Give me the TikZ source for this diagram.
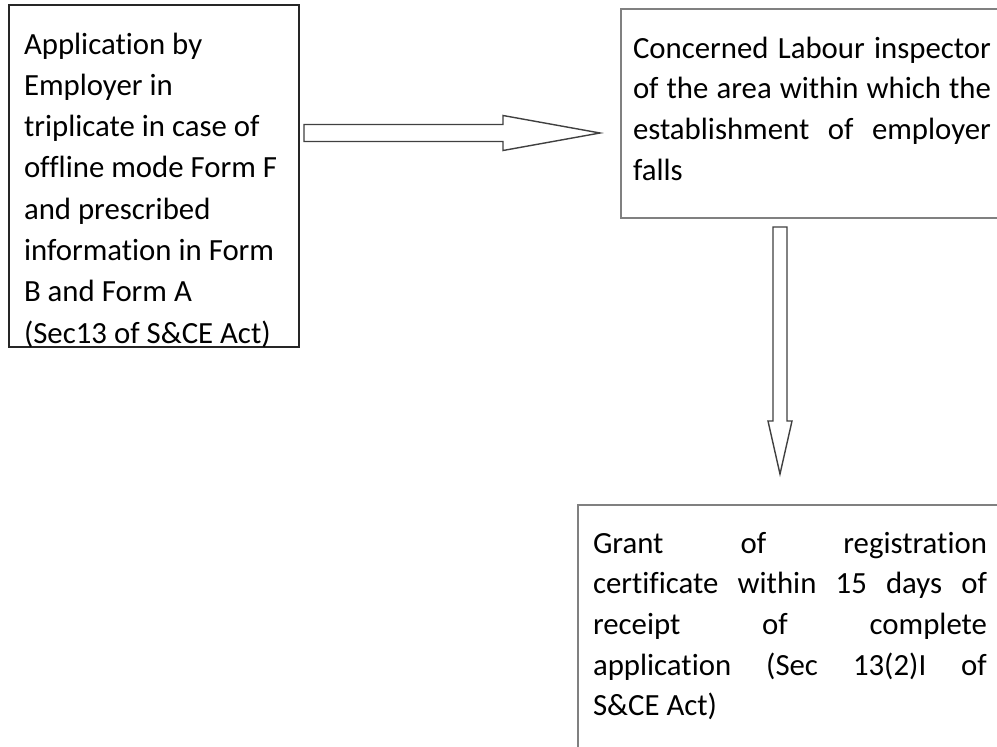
\documentclass[tikz,border=0pt]{standalone}
\usepackage{fontspec}
\setmainfont[Ligatures={NoCommon}]{Carlito}
\usetikzlibrary{calc}
\newcommand{\jline}[1]{\makebox[\linewidth][s]{#1}\\}
\newcommand{\bodyfont}{\fontsize{30.8}{40.7}\selectfont}
\newcommand{\firstfont}{\fontsize{30.8}{41.3}\selectfont}
\begin{document}
\begin{tikzpicture}[x=1pt,y=-1pt,
  boxa/.style={draw=black!85,line width=1.2pt,inner sep=0pt,outer sep=0pt,anchor=north west},
  boxb/.style={draw=black!50,line width=1.7pt,inner sep=0pt,outer sep=0pt,anchor=north west},
  txt/.style={inner sep=0pt,outer sep=0pt,anchor=base west,text=black},
  blk/.style={draw=black!75,line width=1.4pt,fill=white,line join=miter}]
\useasboundingbox (0,0) rectangle (997,747);
\clip (0,0) rectangle (997,747);
\fill[white] (0,0) rectangle (997,747);

% boxes
\node[boxa,minimum width=290pt,minimum height=342pt] (b1) at (9,5) {};
\node[boxb,minimum width=420pt,minimum height=209pt] (b2) at (621,9) {};
\node[boxb,minimum width=460pt,minimum height=280pt] (b3) at (578,505) {};

% texts
\node[txt] (t1) at (24,54) {\begin{minipage}[t]{272pt}\firstfont\raggedright
Application by\\
Employer in\\
triplicate in case of\\
offline mode Form F\\
and prescribed\\
information in Form\\
B and Form A\\
(Sec13 of S\&CE Act)\end{minipage}};

\node[txt] (t2) at (633,58) {\begin{minipage}[t]{358pt}\bodyfont
\jline{Concerned Labour inspector}
\jline{of the area within which the}
\jline{establishment of employer}
falls\end{minipage}};

\node[txt] (t3) at (593,553) {\begin{minipage}[t]{394pt}\bodyfont
\jline{Grant of registration}
\jline{certificate within 15 days of}
\jline{receipt of complete}
\jline{application (Sec 13(2)I of}
S\&CE Act)\end{minipage}};

% block arrows
\coordinate (h0) at ($(b1.north east)+(5,128)$);
\coordinate (h1) at ($(b2.north west)+(-21,124)$);
\draw[blk] ($(h0)+(0,-8.5)$) -- ($(h1)+(-97,-8.5)$) -- ($(h1)+(-97,-17.5)$) -- (h1)
  -- ($(h1)+(-97,17.5)$) -- ($(h1)+(-97,8.5)$) -- ($(h0)+(0,8.5)$) -- cycle;

\coordinate (v0) at ($(b2.south west)+(159,9)$);
\coordinate (v1) at ($(b3.north west)+(202,-31)$);
\draw[blk] ($(v0)+(-7,0)$) -- ($(v1)+(-7,-53)$) -- ($(v1)+(-12,-53)$) -- (v1)
  -- ($(v1)+(12,-53)$) -- ($(v1)+(7,-53)$) -- ($(v0)+(7,0)$) -- cycle;
\end{tikzpicture}
\end{document}
